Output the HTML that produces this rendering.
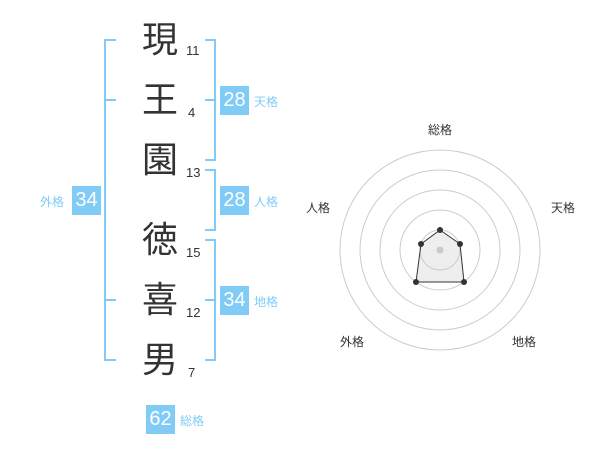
<!DOCTYPE html>
<html><head><meta charset="utf-8"><style>
body{margin:0;width:600px;height:470px;background:#fff;position:relative;overflow:hidden;font-family:"Liberation Sans","Noto Sans CJK JP",sans-serif}
.k{position:absolute;left:140px;width:40px;font-size:36px;line-height:40px;color:#333;text-align:center}
.n{position:absolute;font-size:13px;color:#333;line-height:14px}
.b{position:absolute;width:29px;height:29px;background:#80ccf7;color:#fff;font-size:20px;line-height:29px;text-align:center}
.l{position:absolute;font-size:12px;color:#80ccf7;line-height:14px}
.r{position:absolute;font-size:12px;color:#333;line-height:14px}
</style></head><body>
<div class="k" style="top:20px">現</div>
<div class="k" style="top:80px">王</div>
<div class="k" style="top:140px">園</div>
<div class="k" style="top:220px">徳</div>
<div class="k" style="top:280px">喜</div>
<div class="k" style="top:340px">男</div>
<div class="n" style="left:186px;top:44px">11</div>
<div class="n" style="left:188px;top:106px">4</div>
<div class="n" style="left:186px;top:166px">13</div>
<div class="n" style="left:186px;top:246px">15</div>
<div class="n" style="left:186px;top:306px">12</div>
<div class="n" style="left:188px;top:366px">7</div>
<svg width="600" height="470" style="position:absolute;left:0;top:0">
<g stroke="#80ccf7" stroke-width="2" fill="none">
<path d="M116 40H105V360H116M105 100H116M105 300H116"/>
<path d="M205 40H215V160H205M205 100H215"/>
<path d="M205 170H215V230H205"/>
<path d="M205 240H215V360H205M205 300H215"/>
</g>
<g fill="none" stroke="#ccc" stroke-width="1">
<circle cx="440" cy="250" r="20"/><circle cx="440" cy="250" r="40"/><circle cx="440" cy="250" r="60"/><circle cx="440" cy="250" r="80"/><circle cx="440" cy="250" r="100"/>
</g>
<circle cx="440" cy="250" r="3.5" fill="#ccc"/>
<polygon points="440,230 460,244 464,282 416,282 421,244" fill="rgba(200,200,200,0.3)" stroke="#333" stroke-width="1"/>
<g fill="#333"><circle cx="440" cy="230" r="3"/><circle cx="460" cy="244" r="3"/><circle cx="464" cy="282" r="3"/><circle cx="416" cy="282" r="3"/><circle cx="421" cy="244" r="3"/></g>
</svg>
<div class="b" style="left:220px;top:86px">28</div><div class="l" style="left:254px;top:95px">天格</div>
<div class="b" style="left:220px;top:186px">28</div><div class="l" style="left:254px;top:195px">人格</div>
<div class="b" style="left:220px;top:286px">34</div><div class="l" style="left:254px;top:295px">地格</div>
<div class="b" style="left:72px;top:186px">34</div><div class="l" style="left:40px;top:195px">外格</div>
<div class="b" style="left:146px;top:405px">62</div><div class="l" style="left:180px;top:414px">総格</div>
<div class="r" style="left:428px;top:123px">総格</div>
<div class="r" style="left:551px;top:201px">天格</div>
<div class="r" style="left:306px;top:201px">人格</div>
<div class="r" style="left:340px;top:335px">外格</div>
<div class="r" style="left:512px;top:335px">地格</div>
</body></html>
